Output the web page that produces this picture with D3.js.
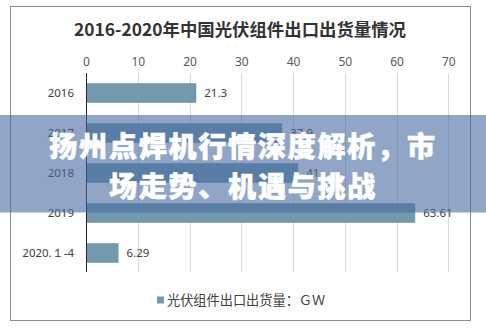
<!DOCTYPE html>
<html>
<head>
<meta charset="utf-8">
<script src="https://cdn.jsdelivr.net/npm/d3@7/dist/d3.min.js"></script>
<style>
  html, body { margin: 0; padding: 0; background: #fff; }
  svg { display: block; font-family: "Noto Sans CJK SC", "Noto Sans", sans-serif; }
</style>
</head>
<body>
<svg id="chart" width="486" height="328"></svg>
<script>
// Export volume of PV modules, GW
const categories = ["2016", "2017", "2018", "2019", "2020.１-4"];
const values = [21.3, 37.9, 41, 63.61, 6.29];
const valueLabels = ["21.3", "37.9", "41", "63.61", "6.29"];
const ticks = [0, 10, 20, 30, 40, 50, 60, 70];
const title = "2016-2020年中国光伏组件出口出货量情况";
const legendLabel = "光伏组件出口出货量：ＧＷ";
const bannerLines = ["扬州点焊机行情深度解析，市", "场走势、机遇与挑战"];

const svg = d3.select("#chart");
const barColor = "#7299ae";

// chart frame
svg.append("rect")
  .attr("x", 10.5).attr("y", 6.5)
  .attr("width", 460).attr("height", 314)
  .attr("fill", "#fff").attr("stroke", "#8c8c8c").attr("stroke-width", 1);

svg.append("text")
  .attr("x", 240).attr("y", 36)
  .attr("text-anchor", "middle")
  .attr("font-size", 17.4).attr("font-weight", "bold")
  .attr("fill", "#333")
  .text(title);

const x = d3.scaleLinear().domain([0, 70]).range([86, 448.3]);
const y = d3.scaleBand().domain(categories).range([73, 273]).paddingInner(0.51).paddingOuter(0.255);

// gridlines
svg.append("g").selectAll("line")
  .data(ticks.filter(t => t > 0))
  .join("line")
  .attr("x1", d => Math.round(x(d)) + 0.5).attr("x2", d => Math.round(x(d)) + 0.5)
  .attr("y1", 73).attr("y2", 272)
  .attr("stroke", "#d9d9d9").attr("stroke-width", 1);

// top axis
const xAxis = svg.append("g")
  .attr("transform", "translate(0,66)")
  .call(d3.axisTop(x).tickValues(ticks).tickSize(0).tickPadding(0));
xAxis.select(".domain").remove();
xAxis.selectAll("text")
  .attr("font-size", 12).attr("fill", "#595959")
  .attr("font-family", "'Noto Sans', sans-serif");

// bars
svg.append("g").selectAll("rect")
  .data(values)
  .join("rect")
  .attr("x", x(0))
  .attr("y", (d, i) => y(categories[i]))
  .attr("width", d => x(d) - x(0))
  .attr("height", y.bandwidth())
  .attr("fill", barColor);

// vertical category axis line
svg.append("line")
  .attr("x1", 86.5).attr("x2", 86.5)
  .attr("y1", 73).attr("y2", 272)
  .attr("stroke", "#262626").attr("stroke-width", 1);

// category labels
svg.append("g").selectAll("text")
  .data(categories)
  .join("text")
  .attr("x", 74)
  .attr("y", d => y(d) + y.bandwidth() / 2)
  .attr("dy", "0.35em")
  .attr("text-anchor", "end")
  .attr("font-size", 11.5).attr("fill", "#404040")
  .attr("font-family", "'Noto Sans', sans-serif")
  .text(d => d);

// value labels
svg.append("g").selectAll("text")
  .data(values)
  .join("text")
  .attr("x", d => x(d) + 8)
  .attr("y", (d, i) => y(categories[i]) + y.bandwidth() / 2)
  .attr("dy", "0.35em")
  .attr("font-size", 11.5).attr("fill", "#404040")
  .attr("font-family", "'Noto Sans', sans-serif")
  .text((d, i) => valueLabels[i]);

// legend
svg.append("rect")
  .attr("x", 157).attr("y", 296.5).attr("width", 7).attr("height", 7)
  .attr("fill", barColor);
svg.append("text")
  .attr("x", 167).attr("y", 300)
  .attr("dy", "0.35em")
  .attr("font-size", 13.2).attr("fill", "#404040")
  .text(legendLabel);

// headline banner across the chart
svg.append("rect")
  .attr("x", 0).attr("y", 115)
  .attr("width", 486).attr("height", 97.5)
  .attr("fill", "rgb(72,106,160)").attr("fill-opacity", 0.6);

svg.append("g").selectAll("text")
  .data(bannerLines)
  .join("text")
  .attr("x", 243)
  .attr("y", (d, i) => 147 + i * 39.5)
  .attr("dy", "0.36em")
  .attr("text-anchor", "middle")
  .attr("font-size", 28).attr("font-weight", "900")
  .attr("letter-spacing", 1.8)
  .attr("fill", "#fff")
  .attr("stroke", "#fff").attr("stroke-width", 0.6)
  .text(d => d);
</script>
</body>
</html>
